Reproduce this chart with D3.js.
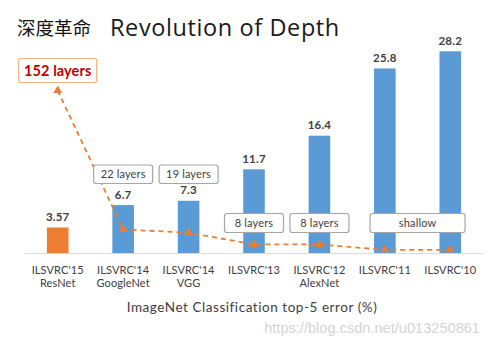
<!DOCTYPE html>
<html>
<head>
<meta charset="utf-8">
<script src="https://cdn.jsdelivr.net/npm/d3@7/dist/d3.min.js"></script>
<style>
  html, body { margin: 0; padding: 0; background: #fff; }
  svg { display: block; }
</style>
</head>
<body>
<svg id="chart" width="496" height="348"></svg>
<script>
// ImageNet (ILSVRC) winners: top-5 error and network depth
const years = ["ILSVRC'15", "ILSVRC'14", "ILSVRC'14", "ILSVRC'13", "ILSVRC'12", "ILSVRC'11", "ILSVRC'10"];
const models = ["ResNet", "GoogleNet", "VGG", "", "AlexNet", "", ""];
const errors = [3.57, 6.7, 7.3, 11.7, 16.4, 25.8, 28.2];
const errorLabels = ["3.57", "6.7", "7.3", "11.7", "16.4", "25.8", "28.2"];
const depths = [152, 22, 19, 8, 8, 3, 3];
const depthLabels = ["152 layers", "22 layers", "19 layers", "8 layers", "8 layers", "shallow"];

const svg = d3.select("#chart");
const baseY = 253;

const x = d3.scaleBand()
  .domain(d3.range(years.length))
  .range([25, 483])
  .paddingInner(0.67)
  .paddingOuter(0.335);

const y = d3.scaleLinear().domain([0, 28.2]).range([baseY, 51.3]);
const yDepth = d3.scaleLinear().domain([0, 152]).range([baseY, 90.5]);

const cx = i => x(i) + x.bandwidth() / 2;
const labelFont = "Lato, 'Open Sans', 'Liberation Sans', sans-serif";
const ink = "#404040";

// Title
svg.append("text")
  .attr("x", 17).attr("y", 34.5)
  .attr("font-family", "'Noto Sans CJK SC', sans-serif")
  .attr("font-size", 18.5)
  .attr("fill", "#111")
  .text("深度革命");
svg.append("text")
  .attr("x", 110).attr("y", 36)
  .attr("font-family", "'Open Sans', sans-serif")
  .attr("font-size", 23.5)
  .attr("letter-spacing", 0.6)
  .attr("fill", "#1a1a1a")
  .text("Revolution of Depth");

// Bars
svg.append("g").selectAll("rect")
  .data(errors)
  .join("rect")
  .attr("x", (d, i) => x(i))
  .attr("y", d => y(d))
  .attr("width", x.bandwidth())
  .attr("height", d => baseY - y(d))
  .attr("fill", (d, i) => i === 0 ? "#ed7d31" : "#5b9bd5");

// Value labels
svg.append("g").selectAll("text")
  .data(errorLabels)
  .join("text")
  .attr("x", (d, i) => cx(i))
  .attr("y", (d, i) => y(errors[i]) - 6.5)
  .attr("text-anchor", "middle")
  .attr("font-family", labelFont)
  .attr("font-weight", "bold")
  .attr("font-size", 11.5)
  .attr("letter-spacing", 0.2)
  .attr("fill", ink)
  .text(d => d);

// Baseline axis
const axis = svg.append("g")
  .attr("transform", `translate(0,${baseY})`)
  .call(d3.axisBottom(x).tickSize(0).tickFormat(""));
axis.select(".domain").attr("stroke", "#d9d9d9").attr("stroke-width", 1.2);

// Category labels (two lines)
const cat = svg.append("g").selectAll("text")
  .data(years)
  .join("text")
  .attr("x", (d, i) => cx(i))
  .attr("y", 273.5)
  .attr("text-anchor", "middle")
  .attr("font-family", labelFont)
  .attr("font-size", 11)
  .attr("letter-spacing", 0.1)
  .attr("fill", ink);
cat.append("tspan").text(d => d);
cat.append("tspan")
  .attr("x", (d, i) => cx(i))
  .attr("dy", 13.2)
  .text((d, i) => models[i]);

// Axis title
svg.append("text")
  .attr("x", 252).attr("y", 312)
  .attr("text-anchor", "middle")
  .attr("font-family", labelFont)
  .attr("font-size", 13.5)
  .attr("letter-spacing", 0.55)
  .attr("fill", ink)
  .text("ImageNet Classification top-5 error (%)");

// Depth line (dashed) with triangle markers
const line = d3.line()
  .x((d, i) => cx(i))
  .y(d => yDepth(d));
svg.append("path")
  .datum(depths)
  .attr("d", line)
  .attr("fill", "none")
  .attr("stroke", "#ed7d31")
  .attr("stroke-width", 1.8)
  .attr("stroke-dasharray", "5,4");

const tri = d3.symbol().type(d3.symbolTriangle).size(34);
svg.append("g").selectAll("path")
  .data(depths)
  .join("path")
  .attr("transform", (d, i) => `translate(${cx(i)},${yDepth(d)})`)
  .attr("d", tri)
  .attr("fill", "#ed7d31");

// Depth annotation boxes
function drawBox(centerX, top, w, h, label, opts) {
  const g = svg.append("g");
  g.append("rect")
    .attr("x", centerX - w / 2).attr("y", top)
    .attr("width", w).attr("height", h)
    .attr("rx", 2.5)
    .attr("fill", "#fff")
    .attr("stroke", opts.stroke)
    .attr("stroke-width", 1.2);
  g.append("text")
    .attr("x", centerX).attr("y", top + h / 2)
    .attr("dy", "0.36em")
    .attr("text-anchor", "middle")
    .attr("font-family", labelFont)
    .attr("font-size", opts.size)
    .attr("font-weight", opts.weight)
    .attr("letter-spacing", opts.spacing || 0.15)
    .attr("fill", opts.color)
    .text(label);
}
drawBox(cx(0), 58.5, 78, 24, depthLabels[0],
  { stroke: "#f4b183", size: 14.5, weight: "bold", color: "#c00000", spacing: 0.1 });
[1, 2].forEach(i => drawBox(cx(i), 165, 59, 18.5, depthLabels[i],
  { stroke: "#a6a6a6", size: 11, weight: "normal", color: ink }));
[3, 4].forEach(i => drawBox(cx(i), 213.5, 59, 19, depthLabels[i],
  { stroke: "#a6a6a6", size: 11, weight: "normal", color: ink }));
drawBox((cx(5) + cx(6)) / 2, 213.5, 95, 19, depthLabels[5],
  { stroke: "#a6a6a6", size: 11, weight: "normal", color: ink });

// Source watermark
svg.append("text")
  .attr("x", 480).attr("y", 333)
  .attr("text-anchor", "end")
  .attr("font-family", "'Liberation Sans', Arial, sans-serif")
  .attr("font-size", 14.6)
  .attr("fill", "#d4d4d4")
  .text("https://blog.csdn.net/u013250861");
</script>
</body>
</html>
